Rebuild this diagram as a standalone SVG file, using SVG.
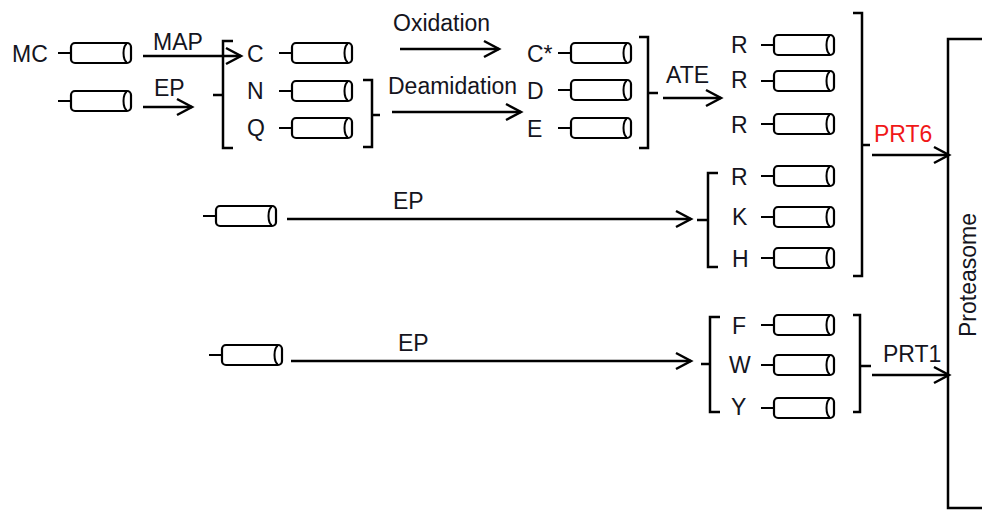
<svg xmlns="http://www.w3.org/2000/svg" xmlns:xlink="http://www.w3.org/1999/xlink" width="982" height="510" viewBox="0 0 982 510">
<style>
text{font-family:"Liberation Sans",Arial,sans-serif;font-size:23px;fill:#141420}
.red{fill:#f01818}
.ln{fill:none;stroke:#000;stroke-width:2.5;stroke-linecap:butt;stroke-linejoin:miter}
.cy{fill:#fff;stroke:#000;stroke-width:2.2}
.cl{fill:none;stroke:#000;stroke-width:2}
</style>
<defs>
<g id="cyl">
<line class="cl" x1="-13" y1="10" x2="0" y2="10"/>
<rect class="cy" x="0" y="0" width="60" height="20" rx="4"/>
<path class="cl" d="M56,1 A3.5,9 0 0 0 56,19"/>
</g>
<marker id="ah" markerUnits="userSpaceOnUse" viewBox="-17 -10 20 20" refX="0" refY="0" markerWidth="20" markerHeight="20" orient="auto">
<path d="M-15,-8 L0,0 L-15,8" fill="none" stroke="#000" stroke-width="2.5"/>
</marker>
</defs>
<rect width="982" height="510" fill="#fff"/>

<g id="connectors">
<line class="ln" x1="143" y1="56" x2="241" y2="56" marker-end="url(#ah)"/>
<line class="ln" x1="143" y1="107" x2="192" y2="107" marker-end="url(#ah)"/>
<line class="ln" x1="400" y1="49" x2="499" y2="49" marker-end="url(#ah)"/>
<line class="ln" x1="392" y1="112" x2="521" y2="112" marker-end="url(#ah)"/>
<line class="ln" x1="663" y1="98" x2="721" y2="98" marker-end="url(#ah)"/>
<line class="ln" x1="872" y1="155" x2="949" y2="155" marker-end="url(#ah)"/>
<line class="ln" x1="287" y1="219" x2="691" y2="219" marker-end="url(#ah)"/>
<line class="ln" x1="291" y1="361" x2="691" y2="361" marker-end="url(#ah)"/>
<line class="ln" x1="872" y1="375" x2="949" y2="375" marker-end="url(#ah)"/>
<!-- brackets -->
<path class="ln" d="M233,41 H223 V148 H233 M223,95 H213"/>
<path class="ln" d="M363,80 H372 V147 H363 M372,115 H380"/>
<path class="ln" d="M639,37 H648 V148 H639 M648,93 H658"/>
<path class="ln" d="M853,13 H862 V276 H853 M862,145 H870"/>
<path class="ln" d="M718,173 H708 V267 H718 M708,220 H697"/>
<path class="ln" d="M720,317 H710 V412 H720 M710,364 H701"/>
<path class="ln" d="M853,315 H860 V412 H853 M860,366 H871"/>
<text x="153" y="50">MAP</text>
<text x="154" y="96">EP</text>
<text x="393" y="31">Oxidation</text>
<text x="388" y="94">Deamidation</text>
<text x="666" y="83">ATE</text>
<text class="red" x="874" y="142">PRT6</text>
<text x="393" y="209">EP</text>
<text x="398" y="351">EP</text>
<text x="883" y="362">PRT1</text>
</g>

<g id="node-MC"><text x="12" y="62">MC</text><use xlink:href="#cyl" x="71" y="43"/></g>
<g id="node-EP-substrate"><use xlink:href="#cyl" x="71" y="91"/></g>
<g id="node-C"><text x="247" y="62">C</text><use xlink:href="#cyl" x="292" y="43"/></g>
<g id="node-N"><text x="247" y="99">N</text><use xlink:href="#cyl" x="292" y="81"/></g>
<g id="node-Q"><text x="247" y="136">Q</text><use xlink:href="#cyl" x="292" y="118"/></g>
<g id="node-Cstar"><text x="527" y="62">C*</text><use xlink:href="#cyl" x="571" y="43"/></g>
<g id="node-D"><text x="527" y="99">D</text><use xlink:href="#cyl" x="571" y="80"/></g>
<g id="node-E"><text x="527" y="137">E</text><use xlink:href="#cyl" x="571" y="118"/></g>
<g id="node-R1"><text x="731" y="53">R</text><use xlink:href="#cyl" x="774" y="35"/></g>
<g id="node-R2"><text x="731" y="88">R</text><use xlink:href="#cyl" x="774" y="71"/></g>
<g id="node-R3"><text x="731" y="133">R</text><use xlink:href="#cyl" x="774" y="114"/></g>
<g id="node-EP-substrate2"><use xlink:href="#cyl" x="216" y="206"/></g>
<g id="node-R4"><text x="731" y="185">R</text><use xlink:href="#cyl" x="774" y="166"/></g>
<g id="node-K"><text x="732" y="225">K</text><use xlink:href="#cyl" x="774" y="207"/></g>
<g id="node-H"><text x="732" y="267">H</text><use xlink:href="#cyl" x="774" y="248"/></g>
<g id="node-EP-substrate3"><use xlink:href="#cyl" x="222" y="345"/></g>
<g id="node-F"><text x="732" y="334">F</text><use xlink:href="#cyl" x="774" y="315"/></g>
<g id="node-W"><text x="729" y="373">W</text><use xlink:href="#cyl" x="774" y="355"/></g>
<g id="node-Y"><text x="731" y="415">Y</text><use xlink:href="#cyl" x="774" y="398"/></g>
<g id="node-Proteasome">
<path class="ln" d="M990,39 H948 V508 H990"/>
<text transform="translate(976,275) rotate(-90)" text-anchor="middle">Proteasome</text>
</g>
</svg>
